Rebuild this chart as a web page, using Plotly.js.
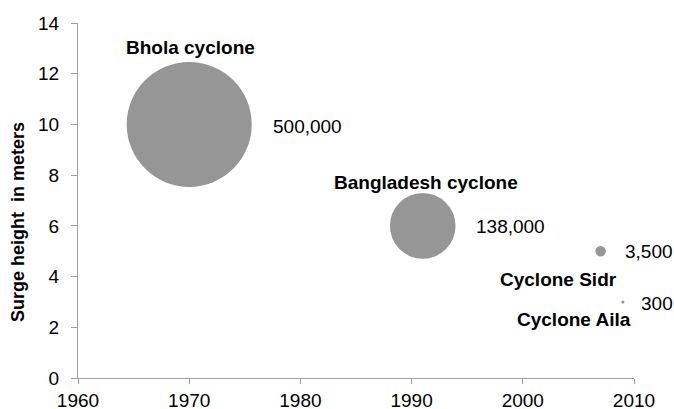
<!DOCTYPE html>
<html>
<head>
<meta charset="utf-8">
<script src="https://cdn.plot.ly/plotly-3.0.1.min.js"></script>
<style>html,body{margin:0;padding:0;background:#fff;}#chart{width:674px;height:409px;}</style>
</head>
<body>
<div id="chart"></div>
<script>
// Data
var names = ["Bhola cyclone", "Bangladesh cyclone", "Cyclone Sidr", "Cyclone Aila"];
var years = [1970, 1991, 2007, 2009];
var surgeHeights = [10, 6, 5, 3];
var deaths = [500000, 138000, 3500, 300];
var xTicks = [1960, 1970, 1980, 1990, 2000, 2010];
var yTicks = [0, 2, 4, 6, 8, 10, 12, 14];

// Label placement (pixel offsets from each bubble centre)
var nameShift = [[1, 77], [3, 43], [-42, -28], [-49, -18]];
var valueShift = [[82, -2], [51, -1], [22, 0], [16, -2]];

var maxDiameter = 125;
var sizeref = 2 * Math.max.apply(null, deaths) / (maxDiameter * maxDiameter);

var trace = {
  type: "scatter",
  mode: "markers",
  x: years,
  y: surgeHeights,
  text: names,
  marker: {
    size: deaths,
    sizemode: "area",
    sizeref: sizeref,
    color: "#969696",
    opacity: 1,
    line: {width: 0}
  },
  hoverinfo: "text",
  showlegend: false
};

var font = {family: "Liberation Sans, Arial, sans-serif", size: 19, color: "#000"};
var annotations = [];
for (var i = 0; i < names.length; i++) {
  annotations.push({
    x: years[i], y: surgeHeights[i], xref: "x", yref: "y",
    text: "<b>" + names[i] + "</b>", showarrow: false,
    xanchor: "center", yanchor: "middle",
    xshift: nameShift[i][0], yshift: nameShift[i][1],
    font: font
  });
  annotations.push({
    x: years[i], y: surgeHeights[i], xref: "x", yref: "y",
    text: deaths[i].toLocaleString("en-US"), showarrow: false,
    xanchor: "left", yanchor: "middle",
    xshift: valueShift[i][0], yshift: valueShift[i][1],
    font: font
  });
}

// plot area in pixels
var plotL = 78, plotW = 674 - 78 - 40, plotT = 23, plotH = 409 - 23 - 31;
annotations.push({
  x: (18 - plotL) / plotW, y: 1 - (222 - plotT) / plotH,
  xref: "paper", yref: "paper",
  text: "<b>Surge height  in meters</b>", showarrow: false,
  textangle: -90,
  font: {family: font.family, size: 18, color: "#000"},
  xanchor: "center", yanchor: "middle"
});

var layout = {
  width: 674, height: 409,
  margin: {l: 78, r: 40, t: 23, b: 31, pad: 0},
  paper_bgcolor: "#fff", plot_bgcolor: "#fff",
  font: font,
  xaxis: {
    range: [1960, 2010], tickvals: xTicks, ticktext: xTicks.map(String),
    showgrid: false, zeroline: false, showline: true,
    linecolor: "#a0a0a0", linewidth: 1,
    ticks: "outside", ticklen: 5, tickcolor: "#a0a0a0",
    tickfont: font, fixedrange: true
  },
  yaxis: {
    range: [0, 14], tickvals: yTicks, ticktext: yTicks.map(String),
    showgrid: false, zeroline: false, showline: true,
    linecolor: "#a0a0a0", linewidth: 1,
    ticks: "outside", ticklen: 6, tickcolor: "#a0a0a0",
    ticklabelstandoff: 8,
    tickfont: font, fixedrange: true
  },
  annotations: annotations
};

Plotly.newPlot("chart", [trace], layout, {displayModeBar: false, staticPlot: true});
</script>
</body>
</html>
